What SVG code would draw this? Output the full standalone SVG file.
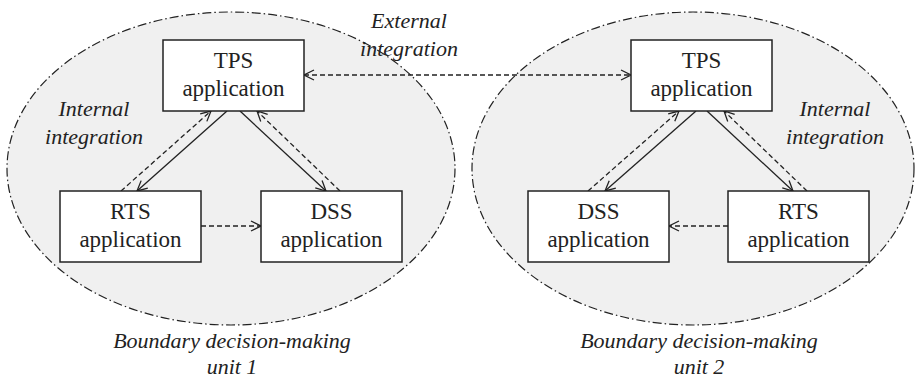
<svg xmlns="http://www.w3.org/2000/svg" width="915" height="381" viewBox="0 0 915 381">
<style>
.bound{fill:#f0f0f0;stroke:#222;stroke-width:1.2;stroke-dasharray:9 3 1.5 3}
.box{fill:#fff;stroke:#222;stroke-width:1.5}
text{font-family:'Liberation Serif','Times New Roman','DejaVu Serif',serif;fill:#222;text-anchor:middle}
.t{font-size:23px}
.i{font-size:22px;font-style:italic}
.s{fill:none;stroke:#222;stroke-width:1.3}
.d{fill:none;stroke:#222;stroke-width:1.3;stroke-dasharray:5 3}
</style>
<defs>
<marker id="ah" viewBox="0 0 12 12" refX="11" refY="6" markerWidth="12" markerHeight="12" markerUnits="userSpaceOnUse" orient="auto-start-reverse">
<path d="M1,1 L11,6 L1,11" fill="none" stroke="#222" stroke-width="1.3"/>
</marker>
</defs>
<g id="unit1"><ellipse class="bound" cx="231" cy="168.5" rx="224" ry="156.5"/></g>
<g id="unit2"><ellipse class="bound" cx="693" cy="168.5" rx="221" ry="156.5"/></g>
<g id="connectors">
<line class="s" x1="227" y1="111" x2="137" y2="191" marker-end="url(#ah)"/>
<line class="d" x1="121" y1="191" x2="211" y2="111" marker-end="url(#ah)"/>
<line class="s" x1="240" y1="111" x2="326" y2="191" marker-end="url(#ah)"/>
<line class="d" x1="340" y1="191" x2="257" y2="111" marker-end="url(#ah)"/>
<line class="d" x1="201" y1="226" x2="261" y2="226" marker-end="url(#ah)"/>
<line class="d" x1="304" y1="75" x2="631" y2="75" marker-start="url(#ah)" marker-end="url(#ah)"/>
<line class="s" x1="696" y1="111" x2="605" y2="191" marker-end="url(#ah)"/>
<line class="d" x1="588" y1="191" x2="679" y2="111" marker-end="url(#ah)"/>
<line class="s" x1="707" y1="111" x2="793" y2="191" marker-end="url(#ah)"/>
<line class="d" x1="807" y1="191" x2="724" y2="111" marker-end="url(#ah)"/>
<line class="d" x1="728" y1="226" x2="669" y2="226" marker-end="url(#ah)"/>
</g>
<g id="tps1"><rect class="box" x="163" y="40" width="141" height="71"/><text class="t" x="233.5" y="68">TPS</text><text class="t" x="233.5" y="96">application</text></g>
<g id="rts1"><rect class="box" x="60" y="191" width="141" height="71"/><text class="t" x="130.5" y="219">RTS</text><text class="t" x="130.5" y="247">application</text></g>
<g id="dss1"><rect class="box" x="261" y="191" width="141" height="71"/><text class="t" x="331.5" y="219">DSS</text><text class="t" x="331.5" y="247">application</text></g>
<g id="tps2"><rect class="box" x="631" y="40" width="141" height="71"/><text class="t" x="701.5" y="68">TPS</text><text class="t" x="701.5" y="96">application</text></g>
<g id="dss2"><rect class="box" x="528" y="191" width="141" height="71"/><text class="t" x="598.5" y="219">DSS</text><text class="t" x="598.5" y="247">application</text></g>
<g id="rts2"><rect class="box" x="728" y="191" width="141" height="71"/><text class="t" x="798.5" y="219">RTS</text><text class="t" x="798.5" y="247">application</text></g>
<g id="labels">
<text class="i" x="94" y="116">Internal</text><text class="i" x="94" y="144">integration</text>
<text class="i" x="835" y="116">Internal</text><text class="i" x="835" y="144">integration</text>
<text class="i" x="409" y="28">External</text><text class="i" x="409" y="56">integration</text>
<text class="i" x="232" y="348">Boundary decision-making</text><text class="i" x="232" y="374">unit 1</text>
<text class="i" x="699" y="348">Boundary decision-making</text><text class="i" x="699" y="374">unit 2</text>
</g>
</svg>
